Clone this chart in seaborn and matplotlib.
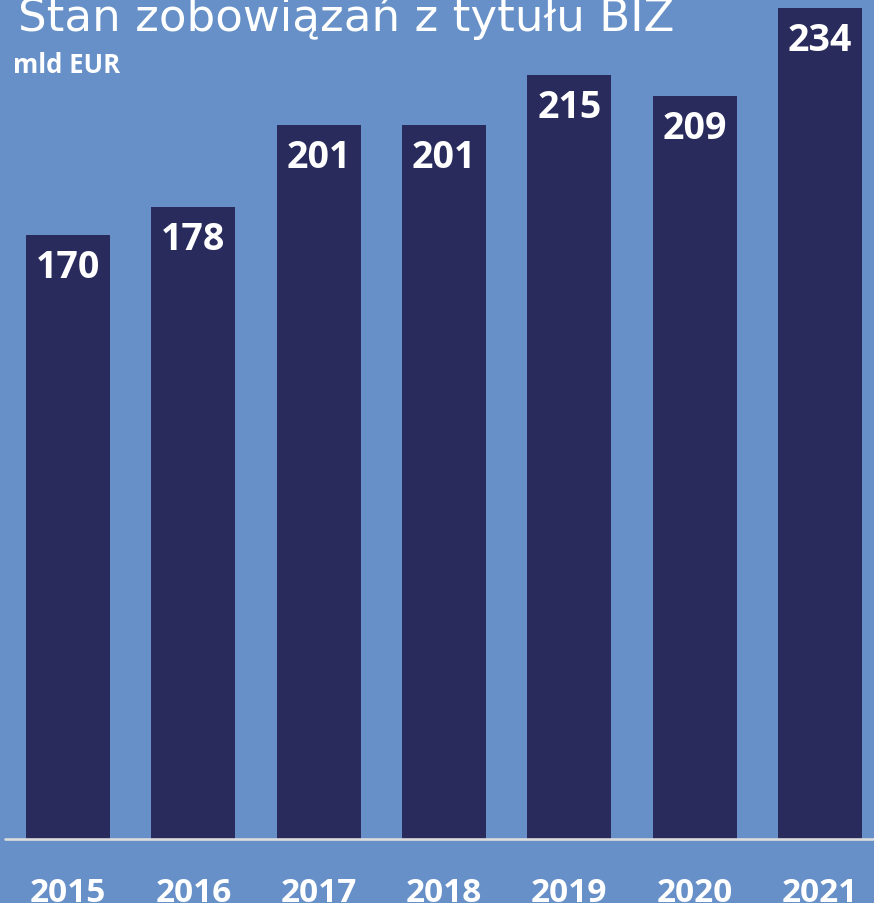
import seaborn as sns
import matplotlib.pyplot as plt
import pandas as pd

years = ["2015", "2016", "2017", "2018", "2019", "2020", "2021"]
values = [170, 178, 201, 201, 215, 209, 234]

title = "Stan zobowiązań z tytułu BIZ"
unit = "mld EUR"

bg = "#6690c7"
bar_color = "#292b5d"

sns.set_style("white")
plt.rcParams["font.family"] = ["Open Sans", "DejaVu Sans"]

W, H = 874, 904
fig = plt.figure(figsize=(W / 100, H / 100), dpi=100, facecolor=bg)
# axes: baseline at pixel row 840, runs to the top edge
ax = fig.add_axes([0, (H - 840) / H, 1, 840 / H])
ax.set_facecolor(bg)

df = pd.DataFrame({"year": years, "value": values})
sns.barplot(data=df, x="year", y="value", color=bar_color, width=0.67,
            saturation=1, linewidth=0, edgecolor="none", ax=ax, zorder=2)

step = 125.33
ax.set_xlim(-68 / step, (W - 68) / step)
ax.set_ylim(0, 840 / 3.553)
ax.axis("off")

# baseline
ax.axhline(0, xmin=5 / W, xmax=1, color="#dcdcdc", lw=1.9, zorder=3, clip_on=False)

px = 1 / 3.553  # data units per pixel
for i, v in enumerate(values):
    ax.text(i, v - 32 * px, str(v), ha="center", va="center", color="white",
            fontsize=27, fontweight="bold", zorder=4)

for i, y in enumerate(years):
    ax.text(i, -62 * px, y, ha="center", va="baseline", color="white",
            fontsize=24, fontweight="bold", clip_on=False)

fig.text(18 / W, 1 - 31 / H, title, ha="left", va="baseline", color="white",
         fontsize=32.5, family=["DejaVu Sans"])
fig.text(13 / W, 1 - 73 / H, unit, ha="left", va="baseline", color="white",
         fontsize=18.5, fontweight="bold")

fig.savefig("out.png", dpi=100, facecolor=bg)
